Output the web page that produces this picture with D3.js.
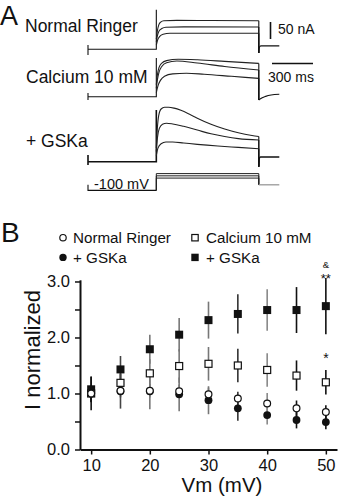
<!DOCTYPE html>
<html>
<head>
<meta charset="utf-8">
<script src="https://cdn.jsdelivr.net/npm/d3@7"></script>
<style>
  body { margin: 0; background: #fff; }
  svg { display: block; }
  text { font-family: "Liberation Sans", Arial, Helvetica, sans-serif; fill: #111; }
</style>
</head>
<body>
<svg id="fig" width="340" height="500"></svg>
<script>
// ---------- Panel A: whole-cell current traces, [time ms, current nA] ----------
const ringerHold = [[0, -17], [0, 13], [0, 0], [500, 0], [500, 116]];
const ringerSteps = [
  [[500, 30], [508, 55], [518, 72], [532, 80], [555, 84], [650, 85], [900, 84.5], [1250, 84]],
  [[500, 22], [508, 40], [520, 54], [540, 61], [570, 65], [700, 66], [1250, 65.5]],
  [[500, 12], [510, 28], [525, 38], [550, 44], [600, 47], [1250, 47]]
];
const ringerTail = [[1250, -11], [1254, 6], [1265, 10], [1400, 10]];

const calciumHold = [[0, -10], [0, 11], [0, 0], [500, 0], [500, 114]];
const calciumSteps = [
  [[500, 35], [508, 65], [520, 86], [540, 99], [575, 106], [660, 110], [800, 108.5], [1000, 104], [1250, 98]],
  [[500, 25], [508, 50], [520, 72], [540, 89], [575, 100], [650, 105], [800, 99], [1000, 89], [1250, 78.5]],
  [[500, 12], [512, 32], [530, 48], [560, 60], [620, 67], [720, 69], [850, 66], [1050, 60], [1250, 54]]
];
const calciumTail = [[1250, -10], [1256, -8], [1275, -3], [1300, 1], [1340, 5], [1400, 7]];

const gskaHold = [[0, -10], [0, 20], [0, 0], [500, 0], [500, 152]];
const gskaSteps = [
  [[500, 40], [507, 95], [517, 135], [535, 155], [560, 160], [590, 160], [630, 157.5], [680, 151], [750, 138],
   [800, 128], [900, 110], [1000, 96], [1100, 85], [1200, 77], [1250, 74]],
  [[500, 30], [508, 70], [522, 98], [545, 110], [575, 113], [620, 111], [700, 104], [800, 93], [900, 82],
   [1000, 74], [1100, 68], [1250, 64]],
  [[500, 18], [512, 40], [535, 53], [570, 58], [620, 58], [700, 55], [800, 51], [950, 46], [1100, 42], [1250, 38]]
];
const gskaTail = [[1250, -15], [1253, 10], [1262, 14], [1400, 14]];

// voltage protocol (mV) and its timing (ms)
const protocolTimes = [0, 500, 1250, 1400];
const holdPotential = -100;
const stepPotentials = [10, 30, 50];
const tailPotential = -50;

// scale bars
const scaleBarCurrent = 50;   // nA
const scaleBarTime = 300;     // ms

// ---------- Panel B: normalized current vs. step potential ----------
const voltages = [10, 15, 20, 25, 30, 35, 40, 45, 50];
const ringer = [1.0, 1.05, 1.05, 1.04, 0.985, 0.91, 0.82, 0.735, 0.67];
const ringerErr = [0.12, 0.12, 0.12, 0.12, 0.12, 0.12, 0.19, 0.14, 0.12];
const ringerGska = [1.0, 1.04, 1.04, 0.985, 0.88, 0.735, 0.615, 0.527, 0.49];
const ringerGskaErr = [0.3, 0.31, 0.32, 0.3, 0.25, 0.22, 0.17, 0.15, 0.13];
const calcium = [1.0, 1.19, 1.36, 1.49, 1.53, 1.50, 1.42, 1.32, 1.20];
const calciumErr = [0.15, 0.2, 0.25, 0.3, 0.3, 0.3, 0.3, 0.27, 0.22];
const calciumGska = [1.075, 1.43, 1.79, 2.05, 2.31, 2.42, 2.49, 2.49, 2.56];
const calciumGskaErr = [0.23, 0.24, 0.26, 0.3, 0.33, 0.35, 0.37, 0.41, 0.5];

const xTicks = [10, 20, 30, 40, 50];
const yTicks = [0, 0.5, 1, 1.5, 2, 2.5, 3];
const yTickLabels = ["0.0", "", "1.0", "", "2.0", "", "3.0"];

const svg = d3.select("#fig");

// ===== Panel A =====
svg.append("text").attr("x", 0).attr("y", 25).attr("font-size", 27).text("A");

const tA = d3.scaleLinear().domain([0, 1400]).range([88, 279.3]);
const vA = d3.scaleLinear().domain([-100, 50]).range([190.4, 173.6]);
const currentScale = base => d3.scaleLinear().domain([0, 50]).range([base, base - 17]);

const rowsA = [
  { label: "Normal Ringer", lx: 25, ly: 31.5, base: 49.3, hold: ringerHold, steps: ringerSteps, tail: ringerTail, w: 1.1 },
  { label: "Calcium 10 mM", lx: 26, ly: 83.3, base: 96.7, hold: calciumHold, steps: calciumSteps, tail: calciumTail, w: 1.1 },
  { label: "+ GSKa", lx: 26, ly: 146.5, base: 161.7, hold: gskaHold, steps: gskaSteps, tail: gskaTail, w: 1.6 }
];

const gA = svg.append("g").attr("fill", "none");
rowsA.forEach(r => {
  svg.append("text").attr("x", r.lx).attr("y", r.ly).attr("font-size", 17.5).text(r.label);
  const iy = currentScale(r.base);
  const lin = d3.line().x(d => tA(d[0])).y(d => iy(d[1]));
  const smooth = d3.line().x(d => tA(d[0])).y(d => iy(d[1])).curve(d3.curveMonotoneX);
  gA.append("path").attr("d", lin(r.hold)).attr("stroke", "#111").attr("stroke-width", r.w);
  r.steps.forEach(s => {
    gA.append("path").attr("d", smooth(s)).attr("stroke", "#222").attr("stroke-width", 1.1);
    gA.append("path").attr("d", lin([s[s.length - 1], [s[s.length - 1][0], r.tail[0][1]]]))
      .attr("stroke", "#111").attr("stroke-width", 1.1);
  });
  gA.append("path").attr("d", smooth(r.tail)).attr("stroke", "#111").attr("stroke-width", r.w);
});

// voltage protocol
const linV = d3.line().x(d => tA(d[0])).y(d => vA(d[1]));
const [t0, tOn, tOff, tEnd] = protocolTimes;
gA.append("path")
  .attr("d", linV([[t0, tailPotential], [t0, holdPotential], [tOn, holdPotential]]))
  .attr("stroke", "#111").attr("stroke-width", 1.1);
stepPotentials.forEach(v => {
  gA.append("path")
    .attr("d", linV([[tOn, holdPotential], [tOn, v], [tOff, v], [tOff, tailPotential]]))
    .attr("stroke", "#222").attr("stroke-width", 1);
});
gA.append("path").attr("d", linV([[tOff, tailPotential], [tEnd, tailPotential]]))
  .attr("stroke", "#999").attr("stroke-width", 1.3);
svg.append("text").attr("x", 94).attr("y", 188.5).attr("font-size", 14.5).text(holdPotential + " mV");

// scale bars
const barPx = currentScale(0)(0) - currentScale(0)(scaleBarCurrent);
gA.append("line").attr("x1", 270.5).attr("x2", 270.5).attr("y1", 39).attr("y2", 39 - barPx)
  .attr("stroke", "#111").attr("stroke-width", 1.6);
svg.append("text").attr("x", 278).attr("y", 34).attr("font-size", 14).text(scaleBarCurrent + " nA");
const timePx = tA(scaleBarTime) - tA(0);
gA.append("line").attr("x1", 272).attr("x2", 272 + timePx).attr("y1", 63.5).attr("y2", 63.5)
  .attr("stroke", "#111").attr("stroke-width", 1.3);
svg.append("text").attr("x", 268).attr("y", 82).attr("font-size", 14).text(scaleBarTime + " ms");

// ===== Panel B =====
svg.append("text").attr("x", 1).attr("y", 241.7).attr("font-size", 28).text("B");

const x = d3.scaleLinear().domain([8.1, 51.9]).range([80, 337]);
const y = d3.scaleLinear().domain([0, 3.03]).range([449.5, 279.8]);

const yAxis = svg.append("g").attr("transform", "translate(80,0)")
  .call(d3.axisLeft(y).tickValues(yTicks).tickSize(5).tickSizeOuter(0).tickPadding(5)
    .tickFormat((d, i) => yTickLabels[i]));
const xAxis = svg.append("g").attr("transform", "translate(0,449.5)")
  .call(d3.axisBottom(x).tickValues(xTicks).tickSize(5).tickSizeOuter(0).tickPadding(4.6)
    .tickFormat(d3.format("d")));
[xAxis, yAxis].forEach(a => {
  a.attr("font-family", null);
  a.select(".domain").attr("stroke", "#111").attr("stroke-width", 2);
  a.selectAll(".tick line").attr("stroke", "#111").attr("stroke-width", 1.5);
  a.selectAll(".tick text").attr("font-size", 16.5).attr("fill", "#111");
});

svg.append("text").attr("transform", "translate(39.5,350) rotate(-90)")
  .attr("text-anchor", "middle").attr("font-size", 22).text("I normalized");
svg.append("text").attr("x", 222).attr("y", 491.5).attr("text-anchor", "middle")
  .attr("font-size", 20.5).text("Vm (mV)");

// error bars, shaded per step potential
const barShade = ["#111", "#444", "#777", "#777", "#777", "#333", "#888", "#111", "#111"];
const series = [
  { vals: calciumGska, err: calciumGskaErr, shape: "square", filled: true },
  { vals: calcium, err: calciumErr, shape: "square", filled: false },
  { vals: ringerGska, err: ringerGskaErr, shape: "circle", filled: true },
  { vals: ringer, err: ringerErr, shape: "circle", filled: false }
];
const gBars = svg.append("g");
series.forEach(s => {
  gBars.selectAll(null).data(voltages).join("line")
    .attr("x1", d => x(d)).attr("x2", d => x(d))
    .attr("y1", (d, i) => y(s.vals[i] - s.err[i])).attr("y2", (d, i) => y(s.vals[i] + s.err[i]))
    .attr("stroke", (d, i) => barShade[i]).attr("stroke-width", 1.6);
});

function drawMarker(g, shape, filled, cx, cy, size) {
  if (shape === "square") {
    const s = filled ? size : size - 1;
    g.append("rect").attr("x", cx - s / 2).attr("y", cy - s / 2).attr("width", s).attr("height", s)
      .attr("fill", filled ? "#111" : "#fff").attr("stroke", "#111").attr("stroke-width", filled ? 0 : 1.2);
  } else {
    g.append("circle").attr("cx", cx).attr("cy", cy).attr("r", filled ? size / 2 : size / 2 - 0.5)
      .attr("fill", filled ? "#111" : "#fff").attr("stroke", "#111").attr("stroke-width", filled ? 0 : 1.2);
  }
}
const gMarks = svg.append("g");
series.forEach(s => {
  voltages.forEach((v, i) => drawMarker(gMarks, s.shape, s.filled, x(v), y(s.vals[i]), s.shape === "square" ? 8 : 7.8));
});

// legend
const legend = [
  { label: "Normal Ringer", shape: "circle", filled: false, mx: 63, tx: 73, ty: 243 },
  { label: "Calcium 10 mM", shape: "square", filled: false, mx: 195, tx: 206, ty: 243 },
  { label: "+ GSKa", shape: "circle", filled: true, mx: 63, tx: 73, ty: 262.7 },
  { label: "+ GSKa", shape: "square", filled: true, mx: 195, tx: 206, ty: 262.7 }
];
const gLeg = svg.append("g");
legend.forEach(l => {
  drawMarker(gLeg, l.shape, l.filled, l.mx, l.ty - 5.3, 7.4);
  svg.append("text").attr("x", l.tx).attr("y", l.ty).attr("font-size", 15.2).text(l.label);
});

// significance marks at 50 mV
svg.append("text").attr("x", x(50)).attr("y", 268).attr("text-anchor", "middle").attr("font-size", 9.5).text("&");
svg.append("text").attr("x", x(50)).attr("y", 283).attr("text-anchor", "middle").attr("font-size", 13).text("**");
svg.append("text").attr("x", x(50)).attr("y", 363.3).attr("text-anchor", "middle").attr("font-size", 14).text("*");
</script>
</body>
</html>
